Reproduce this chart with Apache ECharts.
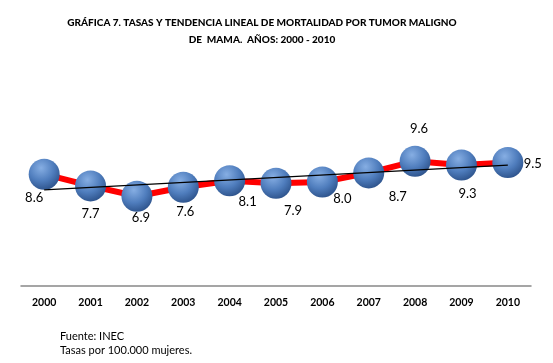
<!DOCTYPE html>
<html><head><meta charset="utf-8">
<script src="https://cdn.jsdelivr.net/npm/echarts@6/dist/echarts.min.js"></script>
<style>html,body{margin:0;padding:0;background:#fff}#c{width:553px;height:363px}</style>
</head><body><div id="c"></div>
<script>
const years = ['2000','2001','2002','2003','2004','2005','2006','2007','2008','2009','2010'];
const rates = [8.6, 7.7, 6.9, 7.6, 8.1, 7.9, 8.0, 8.7, 9.6, 9.3, 9.5];
const trend = [7.4, null, null, null, null, null, null, null, null, null, 9.3];
const titleLines = ['GRÁFICA 7. TASAS Y TENDENCIA LINEAL DE MORTALIDAD POR TUMOR MALIGNO', 'DE  MAMA.  AÑOS: 2000 - 2010'];
const footLines = ['Fuente: INEC', 'Tasas por 100.000 mujeres.'];

const labelOffsets = [[-10,24],[0,28],[4,22],[2,25],[18,21],[17,28],[20,17],[29,24],[4,-32],[6,29],[25,1]];

const chart = echarts.init(document.getElementById('c'));
const FONT = 'Lato, "Open Sans", sans-serif';
chart.setOption({
  animation:false,
  title:{text:titleLines.join('\n'), left:257, top:9, textAlign:'center',
    textStyle:{fontFamily:FONT, fontSize:10, fontWeight:900, color:'#000', lineHeight:17}},
  graphic:[
    {type:'text', left:60, top:331, style:{text:footLines[0], font:'11px '+FONT, fill:'#000'}},
    {type:'text', left:60, top:345, style:{text:footLines[1], font:'11px '+FONT, fill:'#000'}}
  ],
  grid:{left:21, right:22, top:130, bottom:77},
  xAxis:{type:'category', data:years, boundaryGap:true,
    axisLine:{lineStyle:{color:'#888', width:1.5}}, axisTick:{show:false},
    axisLabel:{fontFamily:FONT, fontSize:10.5, fontWeight:'bold', color:'#000', margin:11}},
  yAxis:{type:'value', min:0, max:12, show:false, splitLine:{show:false}},
  series:[
    {type:'line', data:rates, z:2,
      lineStyle:{color:'#ff0000', width:6},
      symbol:'circle', symbolSize:31,
      itemStyle:{color:{type:'radial', x:0.4, y:0.3, r:0.75,
        colorStops:[{offset:0,color:'#86aee3'},{offset:0.55,color:'#4f7dbd'},{offset:1,color:'#2b5088'}]},
        borderWidth:0},
      label:{show:true, formatter:p=>p.value.toFixed(1), fontFamily:FONT, fontSize:13, color:'#000',
        position:'inside'},
      labelLayout:function(params){
        const o = labelOffsets[params.dataIndex];
        return {dx:o[0], dy:o[1]};
      }
    },
    {type:'line', data:trend, connectNulls:true, z:3, symbol:'none',
      lineStyle:{color:'#000', width:1.2}}
  ]
});
</script></body></html>
